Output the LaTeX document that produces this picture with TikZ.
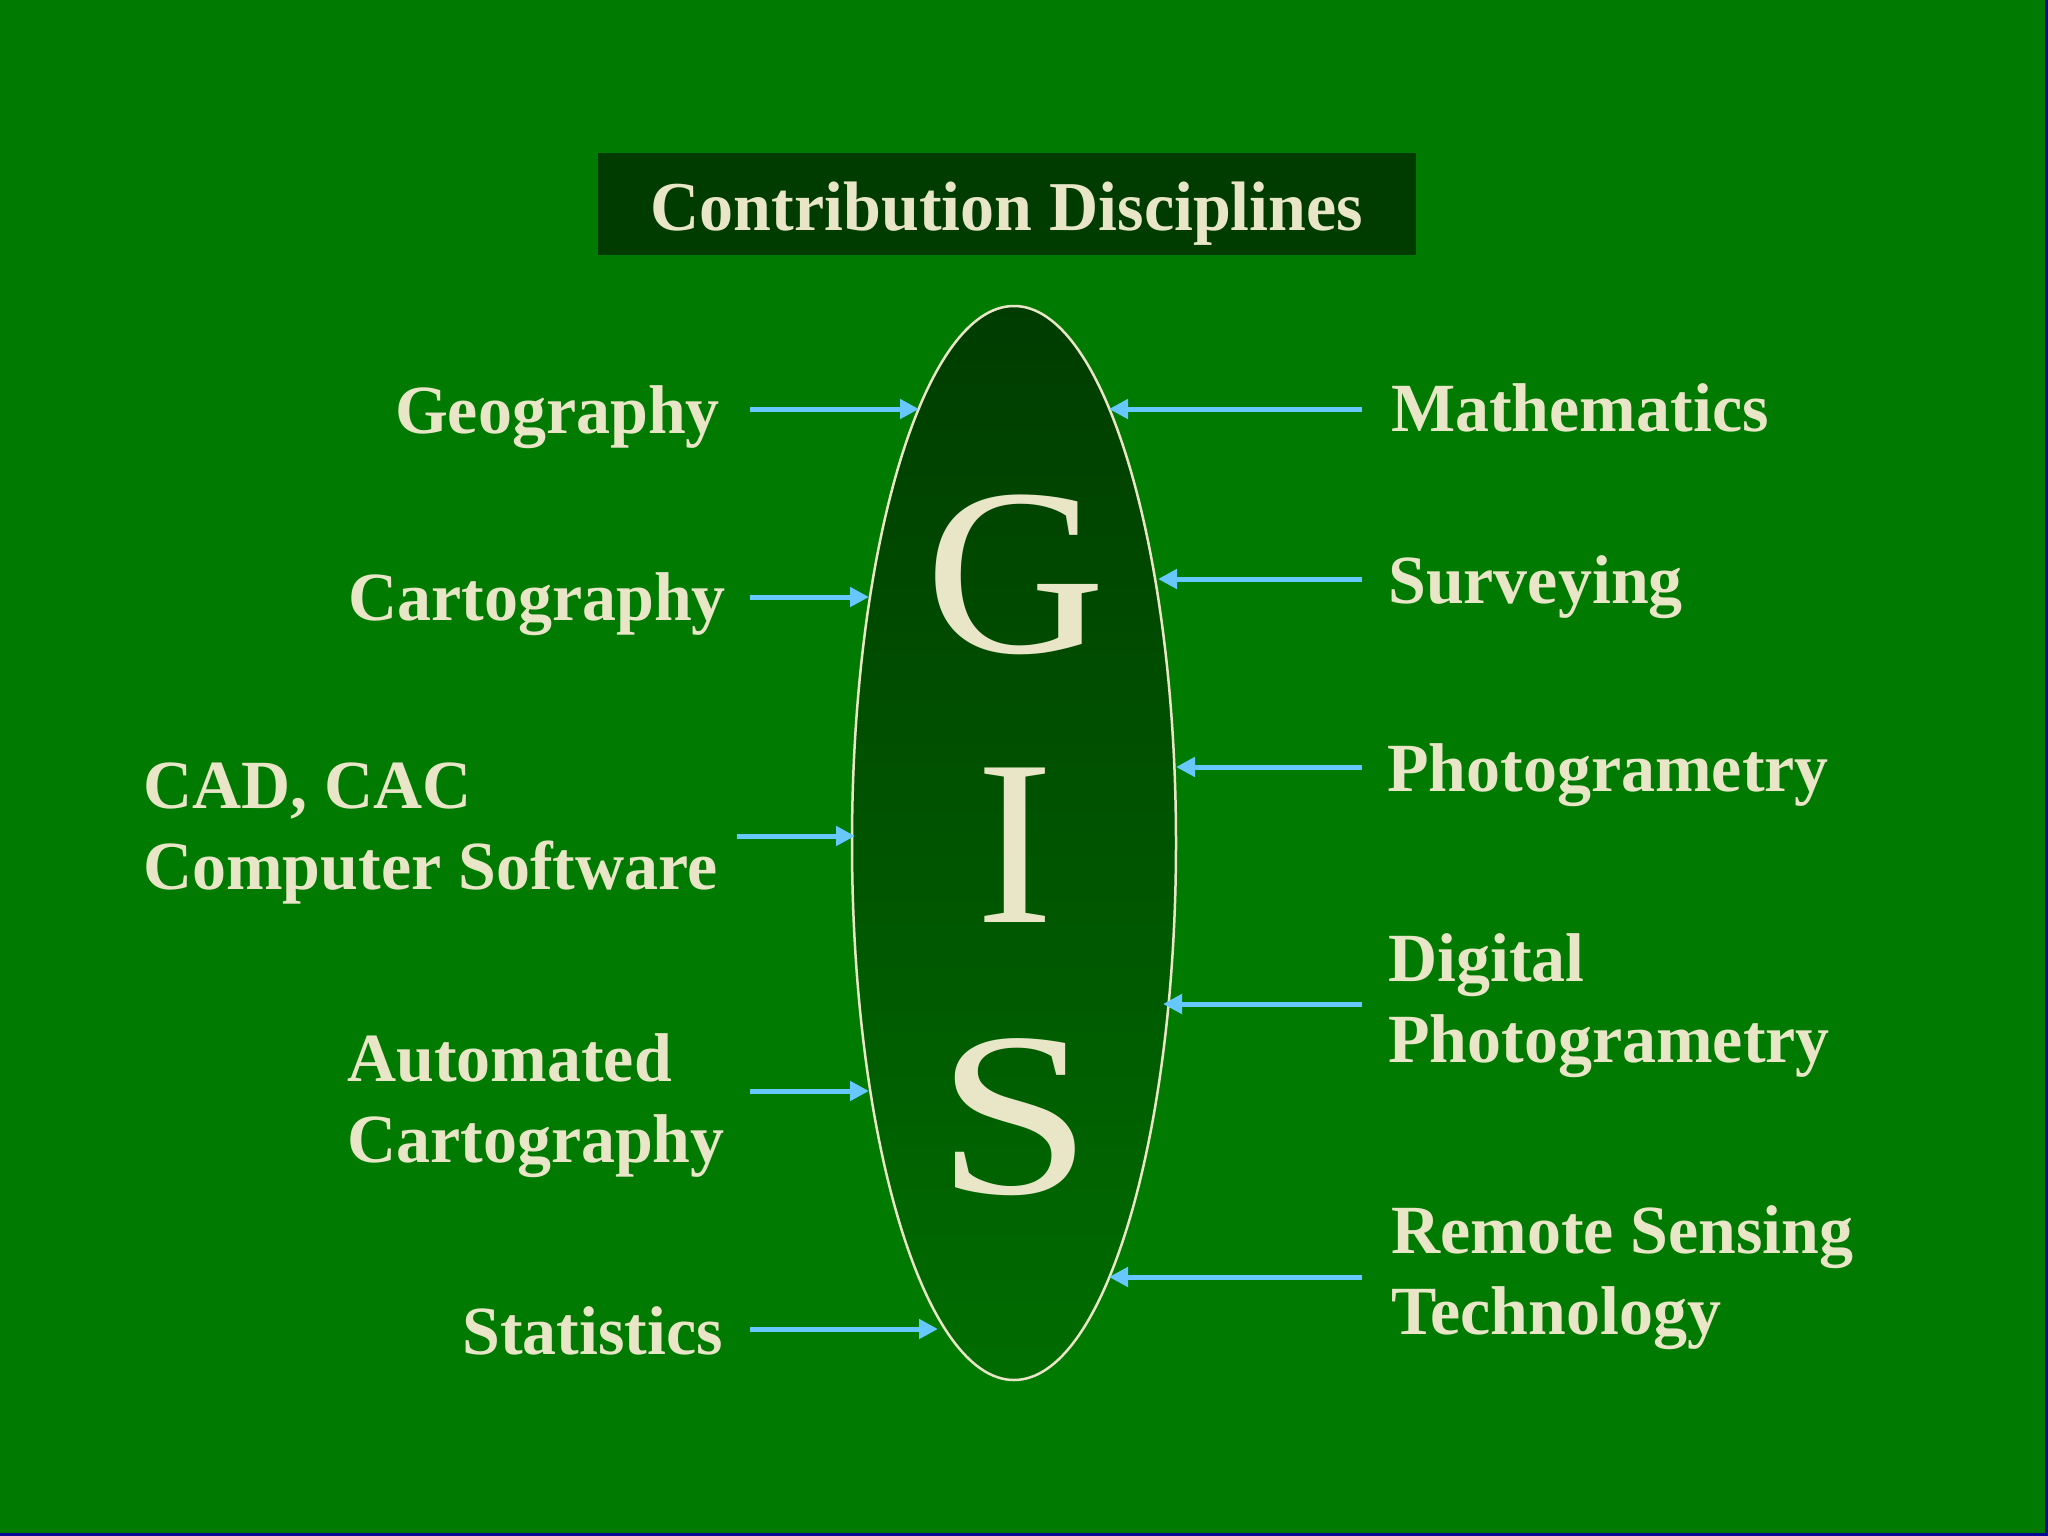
\documentclass[tikz,border=0pt]{standalone}
\usepackage{fontspec}
\setmainfont{Liberation Serif}
\newfontfamily\lblfont[FakeStretch=0.985]{Liberation Serif}
\newfontfamily\ttlfont[FakeStretch=0.972]{Liberation Serif}
\newfontfamily\gfont[FakeStretch=1.05]{Liberation Serif}
\newfontfamily\ifont[FakeStretch=0.98]{Liberation Serif}
\newfontfamily\sfontS[FakeStretch=1.2]{Liberation Serif}
\usetikzlibrary{arrows.meta,shapes.geometric}
\definecolor{bggreen}{RGB}{0,122,0}
\definecolor{darkgreen}{RGB}{0,60,0}
\definecolor{ellmid}{RGB}{0,66,0}
\definecolor{ellbot}{RGB}{0,108,0}
\definecolor{cream}{RGB}{233,230,200}
\definecolor{arrowblue}{RGB}{102,200,255}
\definecolor{edgeblue}{RGB}{10,10,150}
\tikzset{
  lbl/.style={text=cream, inner sep=0pt, font=\lblfont\bfseries\fontsize{69}{81}\selectfont},
  big/.style={text=cream, inner sep=0pt},
  arr/.style={draw=arrowblue, line width=5pt, -{Triangle[length=19pt,width=19pt]}},
}
\newcommand{\twoline}[2]{\vtop{\hbox{#1}\hbox{#2}}}
\begin{document}
\begin{tikzpicture}[x=1pt,y=-1pt]
\useasboundingbox (0,0) rectangle (2048,1536);
\fill[bggreen] (0,0) rectangle (2048,1536);
\fill[edgeblue] (2045,0) rectangle (2048,1536);
\fill[edgeblue] (0,1533) rectangle (2048,1536);

% title
\node[fill=darkgreen, text=cream, inner sep=0pt, minimum width=818pt, minimum height=102pt,
      text height=52pt, text depth=0pt,
      font=\ttlfont\bfseries\fontsize{70}{80}\selectfont] (title) at (1007,204) {Contribution Disciplines};

% central ellipse
\node[ellipse, draw=cream, line width=2.5pt, minimum width=324pt, minimum height=1074pt, inner sep=0pt,
      top color=darkgreen, middle color=ellmid, bottom color=ellbot] (gis) at (1014,843) {};
\node[big, anchor=base, font=\gfont\fontsize{238}{238}\selectfont] (g) at (1016,652) {G};
\node[big, anchor=base, font=\ifont\fontsize{236}{236}\selectfont] (i) at (1015,922) {I};
\node[big, anchor=base, font=\sfontS\fontsize{234}{234}\selectfont] (s) at (1015,1193) {S};

% left labels
\node[lbl, anchor=base east] (geo) at (720,433) {Geography};
\node[lbl, anchor=base east] (carto) at (726,620) {Cartography};
\node[lbl, anchor=base west] (cad) at (143,808) {\twoline{CAD, CAC}{Computer Software}};
\node[lbl, anchor=base west] (auto) at (347,1081) {\twoline{Automated}{Cartography}};
\node[lbl, anchor=base east] (stat) at (723,1354) {Statistics};

% right labels
\node[lbl, anchor=base west] (math) at (1391,431) {Mathematics};
\node[lbl, anchor=base west] (surv) at (1388,603) {Surveying};
\node[lbl, anchor=base west] (photo) at (1387,791) {Photogrametry};
\node[lbl, anchor=base west] (digi) at (1388,981) {\twoline{Digital}{Photogrametry}};
\node[lbl, anchor=base west] (remote) at (1391,1253) {\twoline{Remote Sensing}{Technology}};

% arrow end points
\coordinate (sgeo) at (750,409);   \coordinate (tgeo) at (919,409);
\coordinate (scar) at (750,597);   \coordinate (tcar) at (869,597);
\coordinate (scad) at (737,836);   \coordinate (tcad) at (855,836);
\coordinate (saut) at (750,1091);  \coordinate (taut) at (869,1091);
\coordinate (ssta) at (750,1329);  \coordinate (tsta) at (938,1329);
\coordinate (smat) at (1362,409);  \coordinate (tmat) at (1109,409);
\coordinate (ssur) at (1362,579);  \coordinate (tsur) at (1158,579);
\coordinate (spho) at (1362,767);  \coordinate (tpho) at (1176,767);
\coordinate (sdig) at (1362,1004); \coordinate (tdig) at (1163,1004);
\coordinate (srem) at (1362,1277); \coordinate (trem) at (1109,1277);

\draw[arr] (sgeo) -- (tgeo);
\draw[arr] (scar) -- (tcar);
\draw[arr] (scad) -- (tcad);
\draw[arr] (saut) -- (taut);
\draw[arr] (ssta) -- (tsta);
\draw[arr] (smat) -- (tmat);
\draw[arr] (ssur) -- (tsur);
\draw[arr] (spho) -- (tpho);
\draw[arr] (sdig) -- (tdig);
\draw[arr] (srem) -- (trem);
\end{tikzpicture}
\end{document}
